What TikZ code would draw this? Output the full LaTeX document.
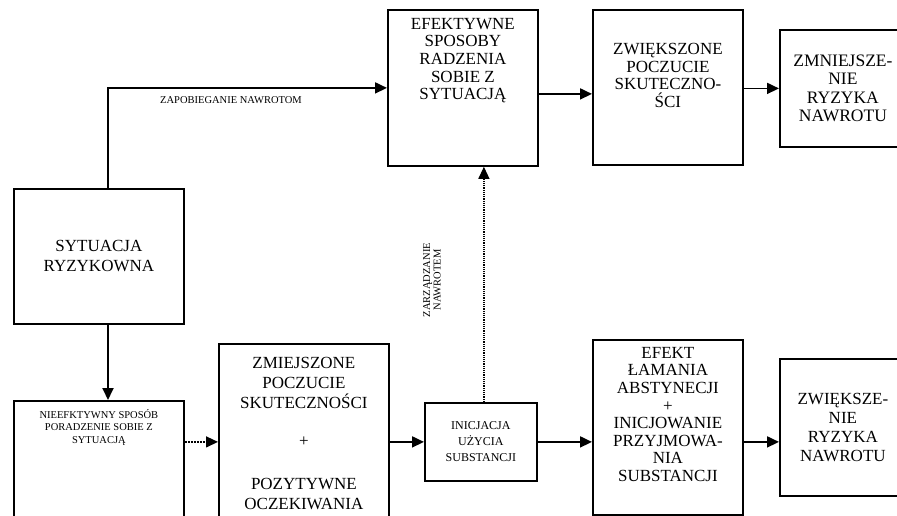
\documentclass[tikz,border=0pt]{standalone}
\usepackage{fontspec}
\setmainfont{Liberation Serif}
\usepackage{tikz}
\usetikzlibrary{arrows.meta,positioning,calc}

\tikzset{
  box/.style={draw, line width=1.8pt, anchor=north west, inner sep=0pt, align=center,
    font=\fontsize{17}{17.6}\selectfont},
  boxtext/.style={inner sep=0pt, align=center, font=\fontsize{17}{17.6}\selectfont},
  smalltext/.style={inner sep=0pt, align=center, font=\fontsize{10.5}{12.5}\selectfont},
  conn/.style={line width=1.8pt, -{Triangle[length=12pt,width=11pt]}},
  dotconn/.style={conn, line width=1.2pt, densely dotted},
  dashconn/.style={conn, line width=1.4pt, dash pattern=on 2pt off 1pt},
}

\begin{document}
\begin{tikzpicture}[x=1pt,y=-1pt]
\useasboundingbox (0,0) rectangle (897,515);
\clip (0,0) rectangle (897,515);

% upper row
\node[box, minimum width=150pt, minimum height=156pt] (efsp) at (387,9) {};
\node[boxtext, below=9pt of efsp.north, anchor=north] {EFEKTYWNE\\SPOSOBY\\RADZENIA\\SOBIE Z\\SYTUACJĄ};
\node[box, minimum width=150pt, minimum height=155pt] (zwpo) at (592,9) {};
\node[boxtext, below=34pt of zwpo.north, anchor=north] {ZWIĘKSZONE\\POCZUCIE\\SKUTECZNO-\\ŚCI};
\node[box, minimum width=126pt, minimum height=117pt, font=\fontsize{17.5}{18.5}\selectfont] (zmn) at (779,29) {ZMNIEJSZE-\\NIE\\RYZYKA\\NAWROTU};

% left column
\node[box, minimum width=170pt, minimum height=135pt, font=\fontsize{17}{20}\selectfont] (sit) at (13,188) {SYTUACJA\\RYZYKOWNA};
\node[box, minimum width=170pt, minimum height=135pt] (nieef) at (13,400) {};
\node[smalltext, below=9pt of nieef.north, anchor=north] {NIEEFKTYWNY SPOSÓB\\PORADZENIE SOBIE Z\\SYTUACJĄ};

% lower row
\node[box, minimum width=170pt, minimum height=180pt, font=\fontsize{17}{20}\selectfont] (zmiej) at (218,343)
  {ZMIEJSZONE\\POCZUCIE\\SKUTECZNOŚCI\\[18pt]+\\[23pt]POZYTYWNE\\OCZEKIWANIA};
\node[box, minimum width=112pt, minimum height=78pt, font=\fontsize{12}{16}\selectfont] (inic) at (424,402)
  {INICJACJA\\UŻYCIA\\SUBSTANCJI};
\node[box, minimum width=150pt, minimum height=175pt] (efekt) at (592,339) {};
\node[boxtext, below=8pt of efekt.north, anchor=north]
  {EFEKT\\ŁAMANIA\\ABSTYNECJI\\+\\INICJOWANIE\\PRZYJMOWA-\\NIA\\SUBSTANCJI};
\node[box, minimum width=126pt, minimum height=137pt, font=\fontsize{17}{19}\selectfont] (zwie) at (779,358)
  {ZWIĘKSZE-\\NIE\\RYZYKA\\NAWROTU};

% connectors
\coordinate (bend) at (108,86);
\draw[conn] (sit.north -| bend) |- (efsp.west);
\node[smalltext] (zap) at (231,100) {ZAPOBIEGANIE NAWROTOM};
\draw[conn] (sit.south -| bend) -- (nieef.north -| bend);
\draw[conn] ([yshift=-6pt]efsp.east) -- ([yshift=-6pt]efsp.east -| zwpo.west);
\draw[conn] ([yshift=-1pt]zwpo.east) -- ([yshift=-1pt]zwpo.east -| zmn.west);
\draw[dashconn] (nieef.east |- inic.west) -- (zmiej.west |- inic.west);
\draw[conn] (zmiej.east |- inic.west) -- (inic.west);
\draw[conn] (inic.east) -- (efekt.west |- inic.east);
\draw[conn] (efekt.east |- inic.east) -- (zwie.west |- inic.east);
\draw[dotconn] ([xshift=3pt]inic.north) -- ([xshift=3pt]inic.north |- efsp.south);
\node[smalltext, rotate=90, font=\fontsize{10.5}{10.5}\selectfont] (zarz) at (432,280) {ZARZĄDZANIE\\NAWROTEM};
\end{tikzpicture}
\end{document}
